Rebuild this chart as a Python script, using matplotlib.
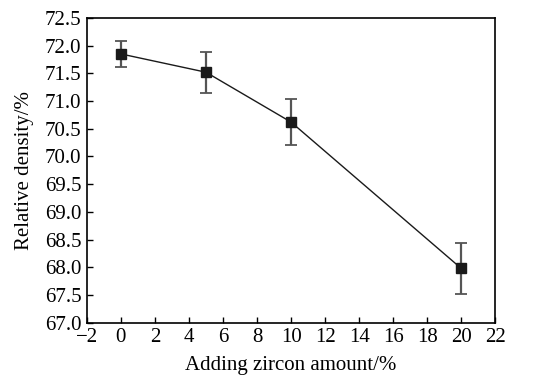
import matplotlib.pyplot as plt

plt.rcParams['font.family'] = ['Liberation Serif', 'DejaVu Serif']

zircon = [0, 5, 10, 20]
density = [71.85, 71.52, 70.62, 67.98]
err_low = [0.24, 0.37, 0.42, 0.47]
err_high = [0.24, 0.37, 0.41, 0.46]

xticks = list(range(-2, 23, 2))
yticks = [67.0 + 0.5 * i for i in range(12)]

fig = plt.figure(figsize=(5.36, 3.81), dpi=100)
ax = fig.add_axes([0.162, 0.153, 0.762, 0.8])

ax.errorbar(zircon, density, yerr=[err_low, err_high], color='#1a1a1a', lw=1.0,
            marker='s', ms=7, mfc='#1a1a1a', mec='#1a1a1a',
            ecolor='#555555', elinewidth=1.6, capsize=4, capthick=1.3)

ax.set_xlim(-2, 22)
ax.set_ylim(67.0, 72.5)
ax.set_xticks(xticks)
ax.set_xticklabels(['\u22122' if t < 0 else str(t) for t in xticks])
ax.set_yticks(yticks)
ax.set_yticklabels([f'{t:.1f}' for t in yticks])
ax.tick_params(direction='in', top=False, right=False, labelsize=15, length=4, width=1)
ax.tick_params(axis='x', pad=4)
ax.tick_params(axis='y', pad=4)
for s in ax.spines.values():
    s.set_linewidth(1.2)

ax.set_xlabel('Adding zircon amount/%', fontsize=15, labelpad=6)
ax.set_ylabel('Relative density/%', fontsize=15, labelpad=8)

fig.savefig('out.png', dpi=100)
